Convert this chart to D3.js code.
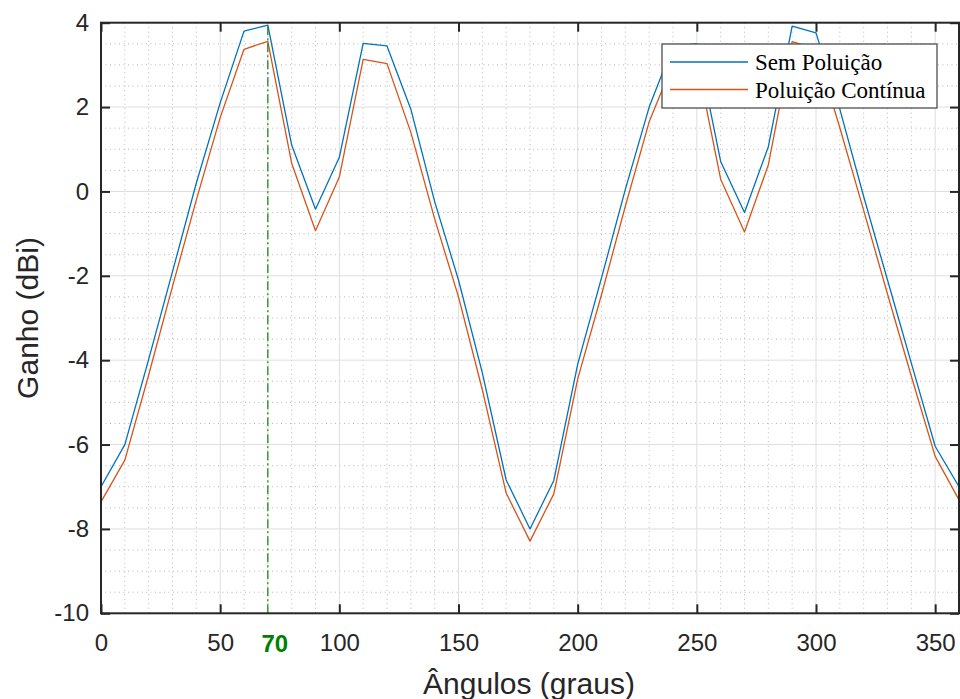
<!DOCTYPE html>
<html>
<head>
<meta charset="utf-8">
<script src="https://cdn.jsdelivr.net/npm/d3@7"></script>
<style>
  html, body { margin: 0; padding: 0; background: #fff; }
  svg { display: block; }
</style>
</head>
<body>
<svg id="chart" width="960" height="699"></svg>
<script>
// ---- data ----
const angles = [0,10,20,30,40,50,60,70,80,90,100,110,120,130,140,150,160,170,180,
                190,200,210,220,230,240,250,260,270,280,290,300,310,320,330,340,350,360];
const semPoluicao = [-7.0,-6.0,-3.98,-1.9,0.2,2.1,3.8,3.94,1.1,-0.42,0.81,3.51,3.45,1.95,-0.24,-2.1,-4.3,-6.84,-8.0,
                     -6.85,-4.1,-2.05,0.05,2.0,3.45,3.5,0.71,-0.5,1.06,3.92,3.76,1.95,-0.12,-2.1,-4.07,-6.04,-7.0];
const poluicaoContinua = [-7.36,-6.37,-4.35,-2.25,-0.2,1.75,3.37,3.56,0.67,-0.93,0.34,3.13,3.03,1.4,-0.65,-2.5,-4.7,-7.15,-8.29,
                          -7.17,-4.45,-2.45,-0.35,1.65,3.03,3.1,0.29,-0.96,0.63,3.55,3.38,1.51,-0.45,-2.43,-4.38,-6.28,-7.31];
const seriesNames = ["Sem Poluição", "Poluição Contínua"];
const seriesColors = ["#0072BD", "#D95319"];
const xTicks = [0,50,100,150,200,250,300,350];
const yTicks = [4,2,0,-2,-4,-6,-8,-10];
const markerAngle = 70;
const xLabel = "Ângulos (graus)";
const yLabel = "Ganho (dBi)";

// ---- layout ----
const svg = d3.select("#chart");
const L = 101, R = 959, T = 22.7, B = 613.3;
const x = d3.scaleLinear().domain([0, 360]).range([L, R]);
const y = d3.scaleLinear().domain([-10, 4]).range([B, T]);
const axisColor = "#262626";
const fontSans = "'Liberation Sans', Arial, Helvetica, sans-serif";
const tickFont = 24;
const labelFont = 30;

svg.append("defs").append("clipPath").attr("id", "clip")
  .append("rect").attr("x", L).attr("y", T).attr("width", R - L).attr("height", B - T);

const gGrid = svg.append("g");
// minor grid
const xMinor = d3.range(10, 360, 10).filter(v => v % 50 !== 0);
const yMinor = d3.range(-10, 4.01, 0.5).filter(v => Math.abs(v % 2) > 1e-6);
gGrid.selectAll(".xm").data(xMinor).enter().append("line")
  .attr("x1", d => x(d)).attr("x2", d => x(d)).attr("y1", T).attr("y2", B)
  .attr("stroke", "#b8b8b8").attr("stroke-width", 1).attr("stroke-dasharray", "1,3.5");
gGrid.selectAll(".ym").data(yMinor).enter().append("line")
  .attr("y1", d => y(d)).attr("y2", d => y(d)).attr("x1", L).attr("x2", R)
  .attr("stroke", "#b8b8b8").attr("stroke-width", 1).attr("stroke-dasharray", "1,3.5");
// major grid
gGrid.selectAll(".xM").data(xTicks.filter(v => v > 0)).enter().append("line")
  .attr("x1", d => x(d)).attr("x2", d => x(d)).attr("y1", T).attr("y2", B)
  .attr("stroke", "#dedede").attr("stroke-width", 1);
gGrid.selectAll(".yM").data(yTicks.filter(v => v > -10 && v < 4)).enter().append("line")
  .attr("y1", d => y(d)).attr("y2", d => y(d)).attr("x1", L).attr("x2", R)
  .attr("stroke", "#dedede").attr("stroke-width", 1);

// series lines
const line = d3.line().x((d, i) => x(angles[i])).y(d => y(d));
const gLines = svg.append("g").attr("clip-path", "url(#clip)");
[semPoluicao, poluicaoContinua].forEach((s, k) => {
  gLines.append("path").datum(s).attr("d", line)
    .attr("fill", "none").attr("stroke", seriesColors[k]).attr("stroke-width", 1.3)
    .attr("stroke-linejoin", "round");
});

// marker dash-dot line at 70
svg.append("line")
  .attr("x1", x(markerAngle)).attr("x2", x(markerAngle)).attr("y1", B).attr("y2", T)
  .attr("stroke", "#1a8c1a").attr("stroke-width", 1.3).attr("stroke-dasharray", "9,3,2,3");

// axes (box with inward ticks)
const tickLen = 9;
const gAx = svg.append("g");
gAx.append("rect").attr("x", L).attr("y", T).attr("width", R - L).attr("height", B - T)
  .attr("fill", "none").attr("stroke", axisColor).attr("stroke-width", 2);

const fmt = d => String(d);
const xAxisB = d3.axisBottom(x).tickValues(xTicks).tickSize(-tickLen).tickPadding(21).tickFormat(fmt);
const xAxisT = d3.axisTop(x).tickValues(xTicks).tickSize(-tickLen).tickFormat("");
const yAxisL = d3.axisLeft(y).tickValues(yTicks).tickSize(-tickLen).tickPadding(12).tickFormat(fmt);
const yAxisR = d3.axisRight(y).tickValues(yTicks).tickSize(-tickLen).tickFormat("");

function styleAxis(g) {
  g.select(".domain").remove();
  g.selectAll(".tick line").attr("stroke", axisColor).attr("stroke-width", 2);
  g.selectAll(".tick text").attr("fill", axisColor).attr("font-family", fontSans).attr("font-size", tickFont);
}
gAx.append("g").attr("transform", `translate(0,${B})`).call(xAxisB).call(styleAxis);
gAx.append("g").attr("transform", `translate(0,${T})`).call(xAxisT).call(styleAxis);
gAx.append("g").attr("transform", `translate(${L},0)`).call(yAxisL).call(styleAxis);
gAx.append("g").attr("transform", `translate(${R},0)`).call(yAxisR).call(styleAxis);

// green bold label "70"
svg.append("text")
  .attr("x", x(markerAngle) + 7).attr("y", B + 39)
  .attr("text-anchor", "middle")
  .attr("font-family", fontSans).attr("font-size", tickFont).attr("font-weight", "bold")
  .attr("fill", "#008000").text(markerAngle);

// axis labels
svg.append("text").attr("x", (L + R) / 2 - 1).attr("y", 694)
  .attr("text-anchor", "middle").attr("font-family", fontSans).attr("font-size", labelFont)
  .attr("fill", axisColor).text(xLabel);
svg.append("text").attr("transform", `translate(38,${(T + B) / 2}) rotate(-90)`)
  .attr("text-anchor", "middle").attr("font-family", fontSans).attr("font-size", labelFont)
  .attr("fill", axisColor).text(yLabel);

// legend
const lg = svg.append("g");
const lx = 662, ly = 44, lw = 275, lh = 64;
lg.append("rect").attr("x", lx).attr("y", ly).attr("width", lw).attr("height", lh)
  .attr("fill", "#fff").attr("stroke", "#4d4d4d").attr("stroke-width", 1.3);
seriesNames.forEach((name, k) => {
  const yy = ly + 18 + k * 27.5;
  lg.append("line").attr("x1", lx + 8).attr("x2", lx + 86).attr("y1", yy).attr("y2", yy)
    .attr("stroke", seriesColors[k]).attr("stroke-width", 1.3);
  lg.append("text").attr("x", lx + 93).attr("y", yy + 8)
    .attr("font-family", "'Liberation Serif', 'Times New Roman', serif").attr("font-size", 23)
    .attr("fill", "#000").text(name);
});
</script>
</body>
</html>
